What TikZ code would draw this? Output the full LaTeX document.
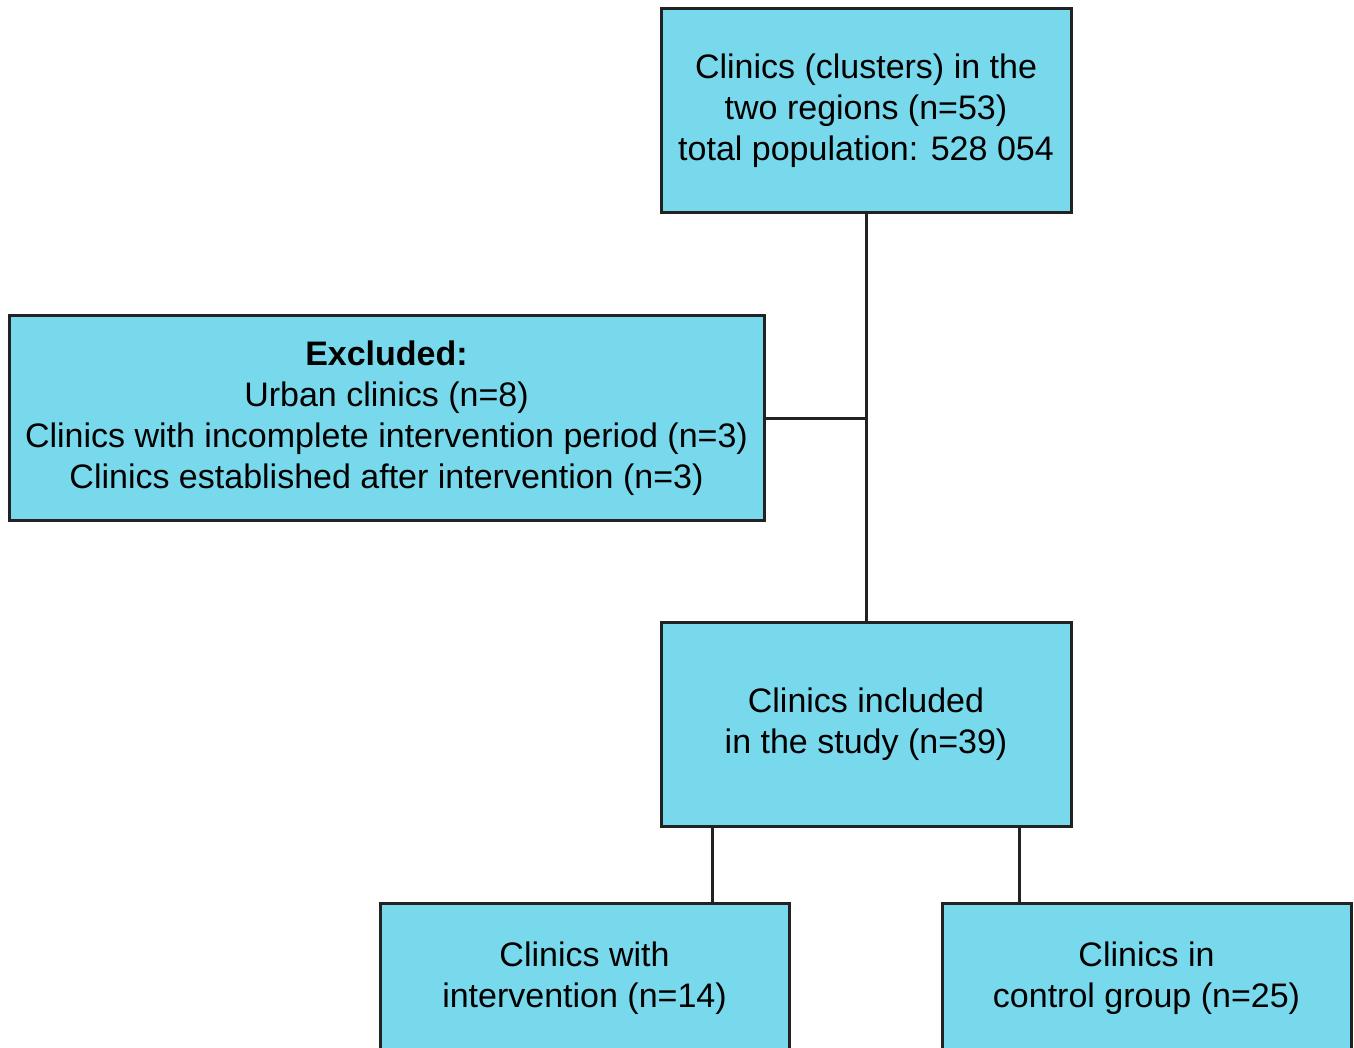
\documentclass[tikz,border=0pt]{standalone}
\usepackage{fontspec}
\setmainfont{Liberation Sans}
\definecolor{boxfill}{RGB}{120,216,236}
\definecolor{boxline}{RGB}{34,34,34}
\begin{document}
\begin{tikzpicture}[x=1pt,y=-1pt,
  flowbox/.style={draw=boxline, line width=3pt, fill=boxfill, rectangle, align=center,
    inner sep=0pt, minimum width=410pt, minimum height=204pt,
    font=\fontsize{34}{41}\selectfont},
  link/.style={draw=boxline, line width=3pt}]
\useasboundingbox (0,0) rectangle (1354,1048);
\fill[white] (0,0) rectangle (1354,1048);
\node[flowbox] (top) at (866,111) {Clinics (clusters) in the\\two regions (n=53)\\total population: 528 054};
\node[flowbox, minimum width=755pt] (excl) at (386.5,418) {\textbf{Excluded:}\\Urban clinics (n=8)\\Clinics with incomplete intervention period (n=3)\\Clinics established after intervention (n=3)};
\node[flowbox] (incl) at (866,724) {Clinics included\\in the study (n=39)};
\node[flowbox, minimum width=409pt, minimum height=150pt] (int) at (584.5,978) {Clinics with\\intervention (n=14)};
\node[flowbox, minimum width=409pt, minimum height=150pt] (ctrl) at (1146.5,978) {Clinics in\\control group (n=25)};
\coordinate (j) at (866,418);
\draw[link] (top.south) -- (incl.north);
\draw[link] (excl.east) -- (j);
\draw[link] (incl.south -| 712,0) -- (int.north -| 712,0);
\draw[link] (incl.south -| 1019,0) -- (ctrl.north -| 1019,0);
\end{tikzpicture}
\end{document}
